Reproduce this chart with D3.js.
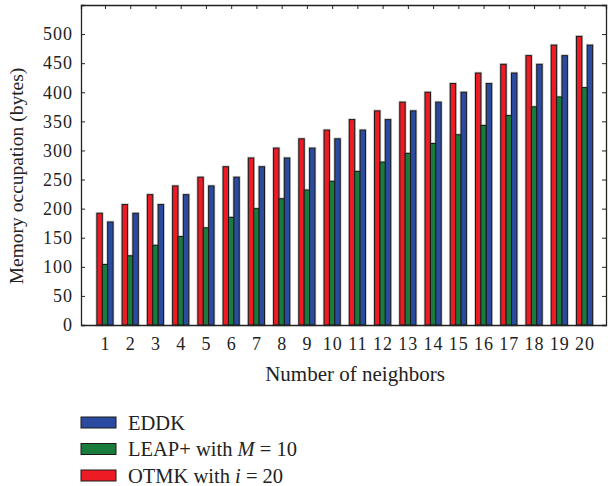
<!DOCTYPE html>
<html>
<head>
<meta charset="utf-8">
<script src="https://cdn.jsdelivr.net/npm/d3@7"></script>
<style>
  body { margin: 0; background: #fff; }
  text { font-family: "Liberation Serif", "DejaVu Serif", serif; fill: #222; }
</style>
</head>
<body>
<svg id="chart" width="608" height="486"></svg>
<script>
// values
var neighbors = d3.range(1, 21);
var otmk = [192, 207, 224, 239, 254, 272, 287, 304, 320, 335, 353, 368, 383, 400, 415, 433, 448, 463, 481, 496];
var leap = [104, 119, 137, 152, 167, 185, 200, 217, 232, 247, 264, 280, 295, 312, 327, 343, 360, 375, 392, 408];
var eddk = [177, 192, 207, 224, 239, 254, 272, 287, 304, 320, 335, 353, 368, 383, 400, 415, 433, 448, 463, 481];
var yTicks = d3.range(0, 501, 50);

var seriesNames = ['OTMK', 'LEAP', 'EDDK'];
var seriesVals = { OTMK: otmk, LEAP: leap, EDDK: eddk };
var colors = { OTMK: '#ed1c24', LEAP: '#197b3c', EDDK: '#2a4b9f' };

var margin = { top: 5, right: 2, bottom: 161, left: 81 };
var width = 608 - margin.left - margin.right,
    height = 486 - margin.top - margin.bottom;

var svg = d3.select('#chart');
var g = svg.append('g').attr('transform', 'translate(' + margin.left + ',' + margin.top + ')');

var x = d3.scaleLinear().domain([0.05, 20.85]).range([0, width]);
var y = d3.scaleLinear().domain([0, 550]).range([height, 0]);

var step = x(2) - x(1);
var inner = d3.scaleBand().domain(seriesNames).range([-step * 0.32, step * 0.32]);

var groups = g.selectAll('g.grp')
    .data(neighbors)
  .enter().append('g')
    .attr('class', 'grp')
    .attr('transform', function(d) { return 'translate(' + x(d) + ',0)'; });

var cells = function(d, i) { return seriesNames.map(function(s) { return { s: s, v: seriesVals[s][i] }; }); };

// light halo round each bar, then the bar itself
groups.selectAll('rect.halo')
    .data(cells)
  .enter().append('rect')
    .attr('class', 'halo')
    .attr('x', function(d) { return inner(d.s); })
    .attr('width', inner.bandwidth())
    .attr('y', function(d) { return y(d.v); })
    .attr('height', function(d) { return height - y(d.v); })
    .style('fill', 'none')
    .style('stroke', '#c4c4c4')
    .style('stroke-width', 2.6);

groups.selectAll('rect.bar')
    .data(cells)
  .enter().append('rect')
    .attr('class', 'bar')
    .attr('x', function(d) { return inner(d.s); })
    .attr('width', inner.bandwidth())
    .attr('y', function(d) { return y(d.v); })
    .attr('height', function(d) { return height - y(d.v); })
    .style('fill', function(d) { return colors[d.s]; })
    .style('stroke', '#1a1a1a')
    .style('stroke-width', 1);

// axes
var xAxis = d3.axisBottom(x).tickValues(neighbors).tickSize(0).tickPadding(12);
var yAxis = d3.axisLeft(y).tickValues(yTicks).tickSize(-4).tickPadding(8);

var gx = g.append('g').attr('transform', 'translate(0,' + height + ')').call(xAxis);
var gy = g.append('g').call(yAxis);
g.append('g').call(d3.axisTop(x).tickValues(neighbors).tickSize(-4).tickFormat(''));
g.append('g').attr('transform', 'translate(' + width + ',0)')
  .call(d3.axisRight(y).tickValues(yTicks).tickSize(-4).tickFormat(''));

g.selectAll('.domain').attr('stroke', '#222').attr('stroke-width', 1.3);
g.selectAll('.tick line').attr('stroke', '#222');
g.selectAll('.tick text')
  .style('font-size', '18px')
  .style('letter-spacing', '1px')
  .style('font-family', '"Liberation Serif", serif')
  .attr('fill', '#222');

// labels
svg.append('text')
  .attr('transform', 'translate(23,176) rotate(-90)')
  .attr('text-anchor', 'middle')
  .style('font-size', '19.5px')
  .text('Memory occupation (bytes)');

svg.append('text')
  .attr('x', 355).attr('y', 381)
  .attr('text-anchor', 'middle')
  .style('font-size', '21px')
  .text('Number of neighbors');

// legend
var legendItems = [
  { s: 'EDDK', parts: ['EDDK'] },
  { s: 'LEAP', parts: ['LEAP+ with ', 'M', ' = 10'] },
  { s: 'OTMK', parts: ['OTMK with ', 'i', ' = 20'] }
];
var lg = svg.append('g').attr('transform', 'translate(81,417)');
var rows = lg.selectAll('g').data(legendItems).enter().append('g')
  .attr('transform', function(d, i) { return 'translate(0,' + (i * 26.5) + ')'; });
rows.append('rect')
  .attr('width', 35).attr('height', 11)
  .style('fill', function(d) { return colors[d.s]; })
  .style('stroke', '#1a1a1a');
var txt = rows.append('text').attr('x', 47).attr('y', 12.5).style('font-size', '20.5px');
txt.each(function(d) {
  var t = d3.select(this);
  d.parts.forEach(function(p, k) {
    t.append('tspan').text(p).style('font-style', k === 1 ? 'italic' : 'normal');
  });
});
</script>
</body>
</html>
